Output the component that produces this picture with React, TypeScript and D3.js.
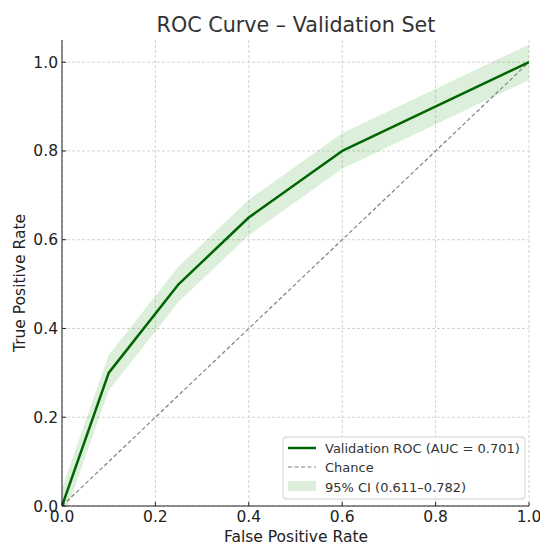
import React from "react";
import * as d3 from "d3";

const fpr = [0, 0.1, 0.25, 0.4, 0.6, 1.0];
const tpr = [0, 0.3, 0.5, 0.65, 0.8, 1.0];
const ciLower = [-0.04, 0.26, 0.46, 0.61, 0.76, 0.96];
const ciUpper = [0.04, 0.34, 0.54, 0.69, 0.84, 1.04];
const ticks = [0, 0.2, 0.4, 0.6, 0.8, 1.0];
const tickLabels = ["0.0", "0.2", "0.4", "0.6", "0.8", "1.0"];
const legendLabels = ["Validation ROC (AUC = 0.701)", "Chance", "95% CI (0.611–0.782)"];

const W = 540, H = 545;
const M = { left: 62, right: 529, top: 40, bottom: 506 };
const FONT = "DejaVu Sans, sans-serif";

export default function App() {
  const x = d3.scaleLinear().domain([0, 1]).range([M.left, M.right]);
  const y = d3.scaleLinear().domain([0, 1.05]).range([M.bottom, M.top]);
  const pts = fpr.map((f, i) => ({ f, t: tpr[i], lo: ciLower[i], hi: ciUpper[i] }));
  const line = d3.line<any>().x(d => x(d.f)).y(d => y(d.t));
  const area = d3.area<any>().x(d => x(d.f)).y0(d => y(d.lo)).y1(d => y(d.hi));
  const chance = d3.line<number>().x(d => x(d)).y(d => y(d));
  const green = "#006400";
  const lx = 283, ly = 437;
  return (
    <svg width={W} height={H} style={{ position: "absolute", left: 0, top: 0, fontFamily: FONT }}>
      <rect width={W} height={H} fill="#fff" />
      <defs>
        <clipPath id="plot">
          <rect x={M.left} y={M.top} width={M.right - M.left} height={M.bottom - M.top} />
        </clipPath>
      </defs>
      {ticks.map((t, i) => (
        <g key={"g" + i}>
          <line x1={x(t)} x2={x(t)} y1={M.top} y2={M.bottom} stroke="#c8c8c8" strokeWidth={0.8} strokeDasharray="3,2" />
          <line x1={M.left} x2={M.right} y1={y(t)} y2={y(t)} stroke="#c8c8c8" strokeWidth={0.8} strokeDasharray="3,2" />
        </g>
      ))}
      <g clipPath="url(#plot)">
        <path d={area(pts) || ""} fill="#2ca02c" fillOpacity={0.17} />
        <path d={chance([0, 1]) || ""} stroke="#808080" strokeWidth={1.2} strokeDasharray="4,2.5" fill="none" />
        <path d={line(pts) || ""} stroke={green} strokeWidth={2.5} fill="none" strokeLinejoin="round" />
      </g>
      <line x1={M.left} x2={M.left} y1={M.top} y2={M.bottom} stroke="#222" strokeWidth={1} />
      <line x1={M.left} x2={M.right} y1={M.bottom} y2={M.bottom} stroke="#222" strokeWidth={1} />
      {ticks.map((t, i) => (
        <g key={"t" + i} fontSize={15.5} fill="#222">
          <line x1={x(t)} x2={x(t)} y1={M.bottom} y2={M.bottom - 4} stroke="#222" />
          <text x={x(t)} y={M.bottom + 16} textAnchor="middle">{tickLabels[i]}</text>
          <line x1={M.left} x2={M.left + 4} y1={y(t)} y2={y(t)} stroke="#222" />
          <text x={M.left - 4} y={y(t) + 5.5} textAnchor="end">{tickLabels[i]}</text>
        </g>
      ))}
      <text x={296} y={32} textAnchor="middle" fontSize={20.7} fill="#333">ROC Curve – Validation Set</text>
      <text x={296} y={542} textAnchor="middle" fontSize={15.5} fill="#222">False Positive Rate</text>
      <text transform={`translate(25,${(M.top + M.bottom) / 2 + 10}) rotate(-90)`} textAnchor="middle" fontSize={15.5} fill="#222">True Positive Rate</text>
      <g>
        <rect x={lx} y={ly} width={242} height={62} rx={3} fill="#fff" fillOpacity={0.85} stroke="#d0d0d0" />
        <line x1={lx + 5} x2={lx + 33} y1={ly + 11} y2={ly + 11} stroke={green} strokeWidth={2.5} />
        <line x1={lx + 5} x2={lx + 33} y1={ly + 30} y2={ly + 30} stroke="#808080" strokeWidth={1.2} strokeDasharray="4,2.5" />
        <rect x={lx + 5} y={ly + 44} width={28} height={10} fill="#2ca02c" fillOpacity={0.17} />
        {legendLabels.map((l, i) => (
          <text key={l} x={lx + 42} y={ly + 15.5 + i * 19.5} fontSize={13} fill="#333">{l}</text>
        ))}
      </g>
    </svg>
  );
}
